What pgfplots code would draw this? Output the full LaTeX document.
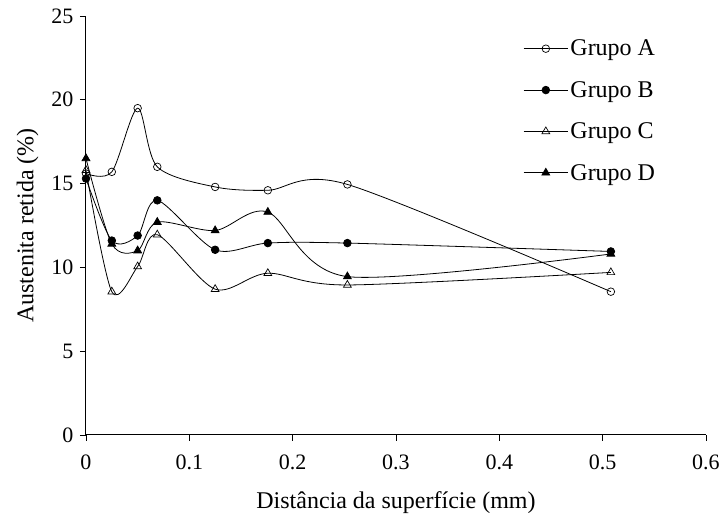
\documentclass[border=0pt]{standalone}
\usepackage{pgfplots}
\pgfplotsset{compat=1.18}
\usepackage{fontspec}
\setmainfont{Liberation Serif}
\newcommand{\ff}{\fontsize{24}{28}\selectfont}
\newcommand{\ft}{\fontsize{22}{26}\selectfont}
\begin{document}
\begin{tikzpicture}
\begin{axis}[
  scale only axis,
  width=620pt, height=419pt,
  xmin=0, xmax=0.6, ymin=0, ymax=25,
  xtick={0,0.1,...,0.6},
  ytick={0,5,...,25},
  xticklabels={0,0.1,0.2,0.3,0.4,0.5,0.6},
  axis x line*=bottom, axis y line*=left,
  tick align=outside,
  major tick length=6pt,
  tick style={black, line width=0.8pt},
  axis line style={line width=1pt},
  /pgf/number format/assume math mode=true,
  tick label style={font=\ft},
  label style={font=\ff},
  xticklabel style={yshift=-10pt},
  yticklabel style={xshift=-3pt},
  xlabel={Distância da superfície (mm)},
  ylabel={Austenita retida (\%)},
  xlabel shift=15pt,
  ylabel shift=6pt,
  clip=false,
  legend style={draw=none, at={(0.705,0.948)}, anchor=north west, fill=none,
    row sep=20pt, font=\ff, inner sep=0pt},
  legend cell align=left,
  legend image code/.code={
    \draw[#1, mark repeat=2, mark phase=2] plot coordinates {(0cm,0cm) (0.78cm,0cm) (1.56cm,0cm)};},
  every axis plot/.append style={black, line width=0.8pt, smooth, tension=0.5},
]
\addplot[mark=o, mark size=3.8pt, mark options={fill=white, line width=0.7pt}] coordinates {
 (0,15.6) (0.025,15.7) (0.05,19.5) (0.069,16.0) (0.125,14.8) (0.176,14.6) (0.253,14.95) (0.508,8.55)};
\addlegendentry{Grupo A}
\addplot[mark=*, mark size=3.8pt] coordinates {
 (0,15.3) (0.025,11.6) (0.05,11.9) (0.069,14.0) (0.125,11.05) (0.176,11.45) (0.253,11.45) (0.508,10.95)};
\addlegendentry{Grupo B}
\addplot[mark=triangle, mark size=4.5pt, mark options={fill=white, line width=0.7pt}] coordinates {
 (0,15.8) (0.025,8.55) (0.05,10.05) (0.069,11.95) (0.125,8.7) (0.176,9.65) (0.253,8.95) (0.508,9.7)};
\addlegendentry{Grupo C}
\addplot[mark=triangle*, mark size=4.5pt] coordinates {
 (0,16.5) (0.025,11.4) (0.05,11.0) (0.069,12.7) (0.125,12.2) (0.176,13.3) (0.253,9.45) (0.508,10.8)};
\addlegendentry{Grupo D}
\path (rel axis cs:0,0) ++(-86pt,-82pt) (rel axis cs:1,1) ++(17pt,16pt);
\end{axis}
\end{tikzpicture}
\end{document}
